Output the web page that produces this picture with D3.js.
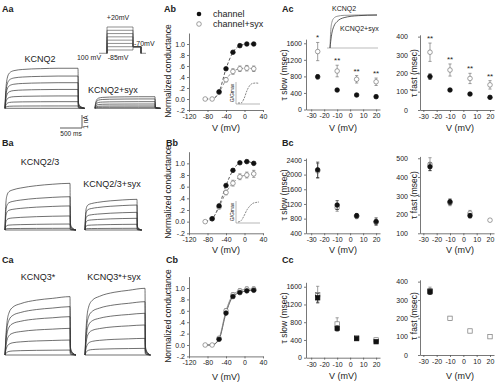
<!DOCTYPE html>
<html>
<head>
<meta charset="utf-8">
<script src="https://cdn.jsdelivr.net/npm/d3@7"></script>
<style>
  body { margin: 0; background: #fff; }
  svg text { font-family: "Liberation Sans", Arial, sans-serif; fill: #222; }
</style>
</head>
<body>
<svg id="fig" width="500" height="384"></svg>
<script>
// ---- data ----
const ivVolts = [-85, -70, -55, -40, -25, -10, 5, 20];
const ivTicksX = [-120, -80, -40, 0, 40];
const ivTicksY = [-0.2, 0, 0.2, 0.4, 0.6, 0.8, 1.0];
const ivTickLabelsY = ["-.2", "0.0", ".2", ".4", ".6", ".8", "1.0"];

// null = point hidden under the open marker in the figure
const gvChannelA = [null, null, 0.13, 0.55, 0.85, 0.97, 1.0, 1.0];
const gvSyxA = [0.0, 0.0, 0.12, 0.35, 0.5, 0.55, 0.56, 0.55];
const gvSyxErrA = [0, 0, 0.02, 0.04, 0.05, 0.05, 0.05, 0.05];

const gvChannelB = [null, 0.05, 0.27, 0.62, 0.88, 1.01, 1.03, 1.0];
const gvSyxB = [0.0, 0.05, 0.25, 0.5, 0.66, 0.77, 0.8, 0.82];
const gvSyxErrB = [0, 0.01, 0.03, 0.04, 0.05, 0.05, 0.05, 0.06];

const gvChannelC = [null, null, 0.1, 0.56, 0.85, 0.92, 0.95, 0.96];
const gvSyxC = [0.0, 0.0, 0.12, 0.6, 0.88, 0.95, 0.98, 0.98];
const gvSyxErrC = [0, 0, 0.02, 0.04, 0.04, 0.04, 0.04, 0.04];

const tauVolts = [-25, -10, 5, 20];
const tauTicksX = [-30, -20, -10, 0, 10, 20];

const slowChannelA = [790, 470, 350, 310];
const slowChannelErrA = [50, 20, 15, 15];
const slowSyxA = [1400, 930, 730, 670];
const slowSyxErrA = [220, 140, 90, 90];
const slowStarsA = ["*", "**", "**", "**"];
const fastChannelA = [182, 109, 87, 69];
const fastChannelErrA = [15, 6, 6, 5];
const fastSyxA = [315, 218, 172, 137];
const fastSyxErrA = [50, 33, 28, 23];
const fastStarsA = ["**", "**", "**", "**"];

const slowChannelB = [2130, 1170, 880, 720];
const slowChannelErrB = [210, 120, 60, 100];
const slowSyxB = [2100, 1100, 860, 700];
const slowSyxErrB = [200, 100, 60, 60];
const fastChannelB = [455, 268, 194, null];
const fastChannelErrB = [20, 15, 12, 0];
const fastSyxB = [468, 262, 207, 170];
const fastSyxErrB = [35, 15, 15, 5];

const slowChannelC = [1350, 660, 430, 360];
const slowChannelErrC = [100, 60, 30, 30];
const slowSyxC = [1420, 760, 450, 400];
const slowSyxErrC = [190, 140, 40, 40];
const fastChannelC = [345, null, null, null];
const fastChannelErrC = [15, 0, 0, 0];
const fastSyxC = [350, 200, 131, 100];
const fastSyxErrC = [20, 8, 6, 5];

// current traces (nA), times in ms
const stepEnd = 1650;
const traceTimes = [0, 10, 25, 50, 100, 200, 400, 800, 1200, 1650];
const tailTimes = [0, 10, 30, 80, 150];
const tailFrac = [1, 0.15, 0.08, 0.03, 0];
const shapeA = [0, 0.3, 0.55, 0.75, 0.88, 0.94, 0.97, 0.99, 1.0, 1.0];
const shapeB = [0, 0.35, 0.6, 0.74, 0.82, 0.86, 0.9, 0.95, 0.98, 1.0];
const shapeC = [0, 0.15, 0.35, 0.55, 0.72, 0.82, 0.88, 0.94, 0.97, 1.0];
const ampsKcnq2 = [3.08, 2.48, 1.97, 1.45, 0.95, 0.51, 0.18];
const ampsKcnq2Syx = [0.89, 0.72, 0.51, 0.33, 0.18, 0.08];
const ampsKcnq23 = [3.59, 2.56, 1.85, 1.08, 0.46, 0.13];
const ampsKcnq23Syx = [2.36, 1.92, 1.36, 0.9, 0.44, 0.13];
const ampsKcnq3 = [4.49, 3.72, 2.95, 2.05, 1.15, 0.38];
const ampsKcnq3Syx = [5.13, 4.1, 3.21, 2.31, 1.28, 0.51];

// normalized traces of the Ac inset
const insetTimes = [0, 15, 40, 80, 150, 300, 600, 1000];
const insetKcnq2 = [0, 0.5, 0.78, 0.9, 0.96, 0.99, 1, 1];
const insetKcnq2Syx = [0, 0.2, 0.45, 0.65, 0.8, 0.92, 0.98, 1];

const holdingMv = -100;
const tailMv = -70;

// ---- drawing ----
const svg = d3.select("#fig");
const FONT = "'Liberation Sans', Arial, sans-serif";

function txt(x, y, s, size, opts = {}) {
  const t = svg.append("text").attr("x", x).attr("y", y).text(s)
    .attr("font-size", size).attr("text-anchor", opts.anchor || "start");
  if (opts.bold) t.attr("font-weight", "bold");
  if (opts.rotate) t.attr("transform", `rotate(-90,${x},${y})`);
  if (opts.fill) t.attr("fill", opts.fill);
  return t;
}

function drawAxes(x, y, xTicks, yTicks, yLabels, yPad = 2) {
  const gx = svg.append("g").attr("transform", `translate(0,${y.range()[0]})`)
    .call(d3.axisBottom(x).tickValues(xTicks).tickSize(2).tickSizeOuter(0).tickPadding(2)
      .tickFormat(d => String(d)));
  const gy = svg.append("g").attr("transform", `translate(${x.range()[0]},0)`)
    .call(d3.axisLeft(y).tickValues(yTicks).tickSize(2).tickSizeOuter(0).tickPadding(yPad)
      .tickFormat((d, i) => yLabels ? yLabels[i] : String(d)));
  [gx, gy].forEach(g => {
    g.attr("font-size", 7).attr("font-family", FONT);
    g.selectAll("path, line").attr("stroke", "#555").attr("stroke-width", 0.8);
    g.selectAll("text").attr("fill", "#333");
  });
}

function points(x, y, volts, vals, errs, open, square, stars) {
  const data = volts.map((v, i) => ({ v, val: vals[i], err: errs ? errs[i] : 0, star: stars ? stars[i] : null }))
    .filter(d => d.val != null);
  const eb = svg.append("g").attr("stroke", open ? "#777" : "#222").attr("stroke-width", 0.7);
  data.filter(d => d.err > 0).forEach(d => {
    const cx = x(d.v), y0 = y(d.val - d.err), y1 = y(d.val + d.err);
    eb.append("line").attr("x1", cx).attr("x2", cx).attr("y1", y0).attr("y2", y1);
    [y0, y1].forEach(yy => eb.append("line").attr("x1", cx - 1.6).attr("x2", cx + 1.6).attr("y1", yy).attr("y2", yy));
  });
  const g = svg.append("g");
  if (square) {
    g.selectAll("rect").data(data).enter().append("rect")
      .attr("x", d => x(d.v) - 2.2).attr("y", d => y(d.val) - 2.2)
      .attr("width", 4.4).attr("height", 4.4)
      .attr("fill", open ? "#fff" : "#111").attr("stroke", open ? "#777" : "#111").attr("stroke-width", 0.7);
  } else {
    g.selectAll("circle").data(data).enter().append("circle")
      .attr("cx", d => x(d.v)).attr("cy", d => y(d.val)).attr("r", 2.3)
      .attr("fill", open ? "#fff" : "#111").attr("stroke", open ? "#777" : "#111").attr("stroke-width", 0.7);
  }
  data.filter(d => d.star).forEach(d => {
    txt(x(d.v), y(d.val + d.err) - 2, d.star, 8, { anchor: "middle", fill: "#333" });
  });
}

function fitLine(x, y, volts, vals, dash, color) {
  const line = d3.line().x((d, i) => x(volts[i])).y(d => y(d)).curve(d3.curveMonotoneX);
  svg.append("path").attr("d", line(vals)).attr("fill", "none")
    .attr("stroke", color).attr("stroke-width", 0.8).attr("stroke-dasharray", dash);
}

function gvPanel(yBottom, yTop, chan, syx, syxErr, dash, inset, titleY, xTitleY) {
  const x = d3.scaleLinear().domain([-120, 40]).range([189, 263]);
  const y = d3.scaleLinear().domain([-0.2, 1.2]).range([yBottom, yTop]);
  drawAxes(x, y, ivTicksX, ivTicksY, ivTickLabelsY);
  // hidden channel points sit on the open ones, so the fit runs through those
  fitLine(x, y, ivVolts, chan.map((d, i) => d ?? syx[i]), dash, "#333");
  fitLine(x, y, ivVolts, syx, dash, "#777");
  points(x, y, ivVolts, syx, syxErr, true, false);
  points(x, y, ivVolts, chan, null, false, false);
  txt(171, titleY, "Normalized conductance", 8.5, { anchor: "middle", rotate: true });
  txt(226, xTitleY, "V (mV)", 9, { anchor: "middle" });
  if (inset) {
    const ix = d3.scaleLinear().domain([-85, 20]).range([238, 259]);
    const iy = d3.scaleLinear().domain([0, 1]).range([inset + 20, inset]);
    const mx = d3.max(syx);
    svg.append("path").attr("d", `M236,${inset - 1}V${inset + 21}H260`)
      .attr("fill", "none").attr("stroke", "#888").attr("stroke-width", 0.6);
    svg.append("path")
      .attr("d", d3.line().x((d, i) => ix(ivVolts[i])).y(d => iy(d / mx)).curve(d3.curveMonotoneX)(syx))
      .attr("fill", "none").attr("stroke", "#555").attr("stroke-width", 0.7).attr("stroke-dasharray", "2,1");
    txt(234, inset + 10, "G/Gmax", 5, { anchor: "middle", rotate: true, fill: "#444" });
  }
}

function tauPanel(left, yDom, yRange, yTicks, chan, chanErr, syx, syxErr, stars, square, titleY, xTitleY, title) {
  const x = left
    ? d3.scaleLinear().domain([-34, 23]).range([306, 380])
    : d3.scaleLinear().domain([-32.5, 23]).range([420, 494]);
  const y = d3.scaleLinear().domain(yDom).range(yRange);
  drawAxes(x, y, tauTicksX, yTicks, null, left ? 2 : 10);
  points(x, y, tauVolts, syx, syxErr, true, square, stars);
  points(x, y, tauVolts, chan, chanErr, false, square);
  txt(left ? 287 : 417, titleY, title, 8.5, { anchor: "middle", rotate: true });
  txt(left ? 343 : 460, xTitleY, "V (mV)", 9, { anchor: "middle" });
}

function traceFamily(x0, x1, base, amps, shape) {
  const x = d3.scaleLinear().domain([0, stepEnd]).range([x0, x1]);
  const y = d3.scaleLinear().domain([0, 1]).range([base, base - 13]);
  const line = d3.line().x(d => x(d[0])).y(d => y(d[1])).curve(d3.curveMonotoneX);
  const g = svg.append("g").attr("fill", "none").attr("stroke", "#333").attr("stroke-width", 0.7);
  const lastTail = tailTimes[tailTimes.length - 1];
  g.append("path").attr("d", line([[0, 0], [stepEnd + lastTail, 0]]));
  amps.forEach(a => {
    const pts = traceTimes.map((t, i) => [t, a * shape[i]])
      .concat(tailTimes.slice(1).map((t, i) => [stepEnd + t, a * tailFrac[i + 1]]));
    g.append("path").attr("d", line(pts));
  });
}

// panel letters
[["Aa", 2, 12], ["Ab", 164, 12], ["Ac", 282, 12],
 ["Ba", 2, 146], ["Bb", 166, 146], ["Bc", 282, 146],
 ["Ca", 2, 263], ["Cb", 166, 263], ["Cc", 282, 263]]
  .forEach(p => txt(p[1], p[2], p[0], 9, { bold: true }));

// Aa: protocol
const vp = d3.scaleLinear().domain([-85, 20]).range([50, 27]);
const proto = svg.append("g").attr("fill", "none").attr("stroke", "#444").attr("stroke-width", 0.6);
ivVolts.forEach(v => {
  proto.append("path").attr("d", `M107,${vp(holdingMv)}V${vp(v)}H133V${vp(tailMv)}H141V${vp(holdingMv)}`);
});
proto.append("path").attr("d", `M99,${vp(holdingMv)}H107M141,${vp(holdingMv)}H146`);
txt(118, 20, "+20mV", 7, { anchor: "middle" });
txt(134, 46, "-70mV", 7);
txt(89, 60, "100 mV", 7, { anchor: "middle" });
txt(118, 60, "-85mV", 7, { anchor: "middle" });

// traces
traceFamily(5, 78, 108.3, ampsKcnq2, shapeA);
traceFamily(95, 155, 108.3, ampsKcnq2Syx, shapeA);
txt(40, 62, "KCNQ2", 9, { anchor: "middle" });
txt(113, 93, "KCNQ2+syx", 9, { anchor: "middle" });

// scale bar
svg.append("path").attr("d", "M82,115V128H60").attr("fill", "none").attr("stroke", "#333").attr("stroke-width", 0.8);
txt(88, 122, "1 nA", 6.5, { anchor: "middle", rotate: true });
txt(71, 136, "500 ms", 6.5, { anchor: "middle" });

traceFamily(5, 70, 230, ampsKcnq23, shapeB);
traceFamily(85, 137, 230, ampsKcnq23Syx, shapeB);
txt(40, 165, "KCNQ2/3", 9, { anchor: "middle" });
txt(112, 187, "KCNQ2/3+syx", 9, { anchor: "middle" });

traceFamily(5, 70, 355, ampsKcnq3, shapeC);
traceFamily(85, 145, 355, ampsKcnq3Syx, shapeC);
txt(38, 280, "KCNQ3*", 9, { anchor: "middle" });
txt(114, 280, "KCNQ3*+syx", 9, { anchor: "middle" });

// Ab / Bb / Cb
gvPanel(110, 33, gvChannelA, gvSyxA, gvSyxErrA, "3,2", 83, 71, 131);
gvPanel(233.3, 151.7, gvChannelB, gvSyxB, gvSyxErrB, "3,2", 202, 192, 253);
gvPanel(356.4, 276.6, gvChannelC, gvSyxC, gvSyxErrC, null, null, 316, 380);

// legend
svg.append("circle").attr("cx", 199).attr("cy", 14).attr("r", 2.3).attr("fill", "#111");
svg.append("circle").attr("cx", 199).attr("cy", 24).attr("r", 2.3).attr("fill", "#fff").attr("stroke", "#777").attr("stroke-width", 0.7);
txt(213, 17, "channel", 9);
txt(213, 27, "channel+syx", 9);

// Ac
tauPanel(true, [0, 1700], [109.5, 39.15], [0, 400, 800, 1200, 1600],
  slowChannelA, slowChannelErrA, slowSyxA, slowSyxErrA, slowStarsA, false, 75, 131, "τ slow (msec)");
tauPanel(false, [0, 410], [110, 34.8], [0, 100, 200, 300, 400],
  fastChannelA, fastChannelErrA, fastSyxA, fastSyxErrA, fastStarsA, false, 73, 131, "τ fast (msec)");

// Ac inset traces
const itx = d3.scaleLinear().domain([0, 1000]).range([330, 377]);
const ity = d3.scaleLinear().domain([0, 1]).range([48, 15]);
svg.append("line").attr("x1", 327).attr("x2", 378).attr("y1", 48).attr("y2", 48).attr("stroke", "#aaa").attr("stroke-width", 0.8);
const iline = d3.line().x((d, i) => itx(insetTimes[i])).y(d => ity(d)).curve(d3.curveMonotoneX);
svg.append("path").attr("d", iline(insetKcnq2)).attr("fill", "none").attr("stroke", "#777").attr("stroke-width", 0.8);
svg.append("path").attr("d", iline(insetKcnq2Syx)).attr("fill", "none").attr("stroke", "#333").attr("stroke-width", 0.8);
txt(332, 11, "KCNQ2", 7);
txt(340, 31, "KCNQ2+syx", 7);

// Bc
tauPanel(true, [400, 2450], [233.3, 158.1], [400, 800, 1200, 1600, 2000, 2400],
  slowChannelB, slowChannelErrB, slowSyxB, slowSyxErrB, null, false, 195, 253, "τ slow (msec)");
tauPanel(false, [100, 510], [233.3, 156.4], [100, 200, 300, 400, 500],
  fastChannelB, fastChannelErrB, fastSyxB, fastSyxErrB, null, false, 195, 253, "τ fast (msec)");

// Cc
tauPanel(true, [0, 1700], [357.7, 282.3], [0, 400, 800, 1200, 1600],
  slowChannelC, slowChannelErrC, slowSyxC, slowSyxErrC, null, true, 318, 379, "τ slow (msec)");
tauPanel(false, [0, 410], [355, 279.8], [0, 100, 200, 300, 400],
  fastChannelC, fastChannelErrC, fastSyxC, fastSyxErrC, null, true, 316, 379, "τ fast (msec)");
</script>
</body>
</html>
